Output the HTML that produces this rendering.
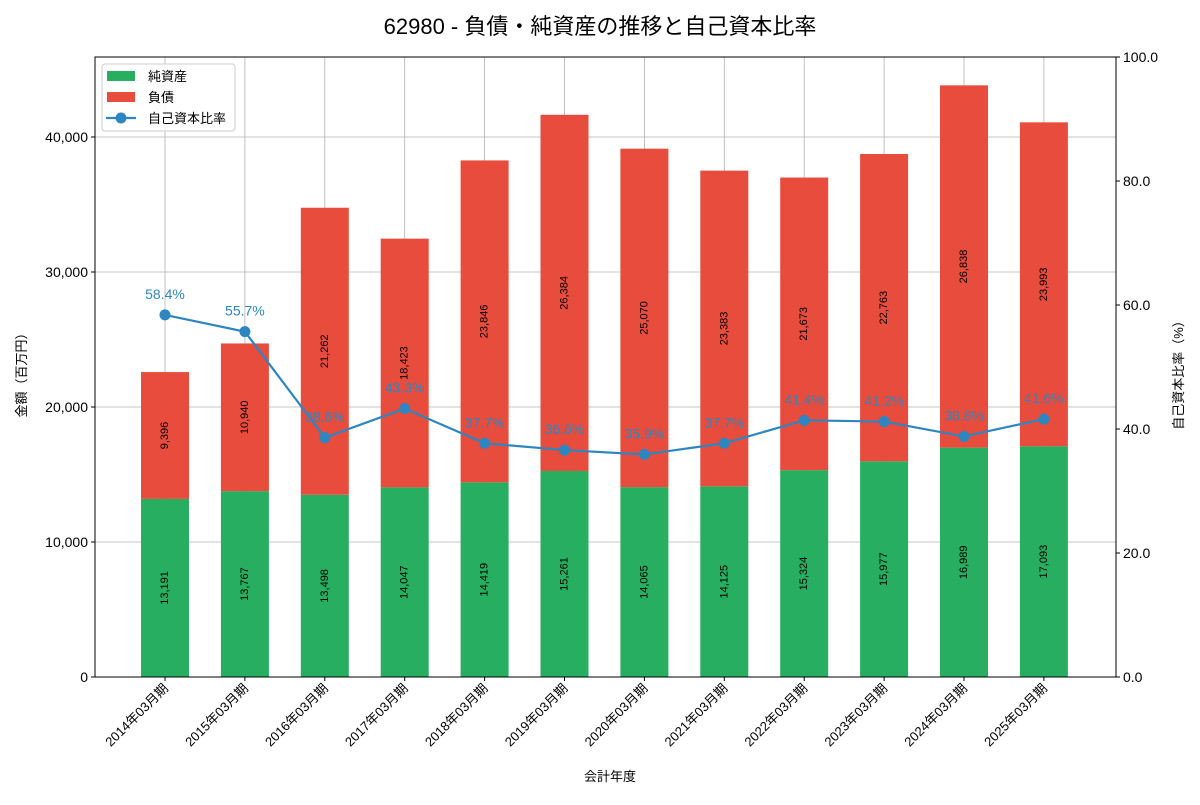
<!DOCTYPE html>
<html><head><meta charset="utf-8"><style>
body{margin:0;background:#fff}
svg{font-family:"Liberation Sans","Noto Sans CJK JP",sans-serif}
</style></head><body>
<svg id="c" width="1200" height="800"></svg>
<script>
const categories=["2014年03月期","2015年03月期","2016年03月期","2017年03月期","2018年03月期","2019年03月期","2020年03月期","2021年03月期","2022年03月期","2023年03月期","2024年03月期","2025年03月期"];
const netAssets=[13191,13767,13498,14047,14419,15261,14065,14125,15324,15977,16989,17093];
const liabilities=[9396,10940,21262,18423,23846,26384,25070,23383,21673,22763,26838,23993];
const ratio=[58.4,55.7,38.6,43.3,37.7,36.6,35.9,37.7,41.4,41.2,38.8,41.6];
const leftTicks=[0,10000,20000,30000,40000];
const rightTicks=[0,20,40,60,80,100];
const L=95,R=1116,T=57,B=677,LMAX=45926;
const NS="http://www.w3.org/2000/svg";const svg=document.getElementById('c');
function el(t,a,p){const e=document.createElementNS(NS,t);for(const k in a)e.setAttribute(k,a[k]);(p||svg).appendChild(e);return e;}
const x=i=>165+i*79.9, y=v=>B-v/LMAX*(B-T), yr=v=>B-v/100*(B-T);
const fmt=v=>v.toLocaleString('en-US');
let g=el('g',{});
categories.forEach((c,i)=>el('line',{x1:x(i),x2:x(i),y1:T,y2:B,stroke:'#b0b0b0','stroke-width':0.8},g));
leftTicks.forEach(v=>el('line',{x1:L,x2:R,y1:y(v),y2:y(v),stroke:'#b0b0b0','stroke-width':0.8},g));
categories.forEach((c,i)=>{
 const bw=48,x0=x(i)-bw/2;
 let r=el('rect',{x:x0,y:y(netAssets[i]),width:bw,height:B-y(netAssets[i]),fill:'#27ae60'});
 
 let top=netAssets[i]+liabilities[i];
 r=el('rect',{x:x0,y:y(top),width:bw,height:y(netAssets[i])-y(top),fill:'#e74c3c'});
 
 [[netAssets[i]/2,netAssets[i]],[netAssets[i]+liabilities[i]/2,liabilities[i]]].forEach(([m,v])=>{
  const yy=y(m);let t=el('text',{x:x(i),y:yy,'font-size':11,'text-anchor':'middle','dominant-baseline':'central',transform:`rotate(-90 ${x(i)} ${yy})`});t.textContent=fmt(v);
  });
 let tl=el('text',{x:x(i)+4,y:B+12,'font-size':13,'text-anchor':'end',transform:`rotate(-45 ${x(i)+4} ${B+12})`});tl.textContent=c;
 
 el('line',{x1:x(i),x2:x(i),y1:B,y2:B+4,stroke:'#000'});
});
let pl=el('polyline',{points:ratio.map((v,i)=>x(i)+','+yr(v)).join(' '),fill:'none',stroke:'#2e86c1','stroke-width':2.2});

ratio.forEach((v,i)=>{let c=el('circle',{cx:x(i),cy:yr(v),r:5.5,fill:'#2e86c1'});
 let t=el('text',{x:x(i),y:yr(v)-16,'font-size':14,fill:'#2e86c1','text-anchor':'middle'});t.textContent=v.toFixed(1)+'%';});
el('rect',{x:L,y:T,width:R-L,height:B-T,fill:'none',stroke:'#000','stroke-width':1});
leftTicks.forEach(v=>{el('line',{x1:L-4,x2:L,y1:y(v),y2:y(v),stroke:'#000'});let t=el('text',{x:L-7,y:y(v)+5,'font-size':14,'text-anchor':'end'});t.textContent=fmt(v);});
rightTicks.forEach(v=>{el('line',{x1:R,x2:R+4,y1:yr(v),y2:yr(v),stroke:'#000'});let t=el('text',{x:R+7,y:yr(v)+5,'font-size':14});t.textContent=v.toFixed(1);});
let t=el('text',{x:600,y:34,'font-size':22,'text-anchor':'middle'});t.textContent='62980 - 負債・純資産の推移と自己資本比率';
t=el('text',{x:610,y:781,'font-size':13,'text-anchor':'middle'});t.textContent='会計年度';
t=el('text',{x:26,y:372,'font-size':13,'text-anchor':'middle',transform:'rotate(-90 26 372)'});t.textContent='金額（百万円）';
t=el('text',{x:1183,y:372,'font-size':13,'text-anchor':'middle',transform:'rotate(-90 1183 372)'});t.textContent='自己資本比率（%）';
let lg=el('g',{});
el('rect',{x:102,y:64,width:133,height:67,rx:3,fill:'#fff','fill-opacity':0.85,stroke:'#ccc'},lg);
el('rect',{x:107,y:71,width:28,height:10,fill:'#27ae60'},lg);
el('rect',{x:107,y:92,width:28,height:10,fill:'#e74c3c'},lg);
el('line',{x1:106,x2:136,y1:118,y2:118,stroke:'#2e86c1','stroke-width':2.2},lg);
el('circle',{cx:121,cy:118,r:5.5,fill:'#2e86c1'},lg);
[['純資産',81],['負債',102],['自己資本比率',123]].forEach(([s,yy])=>{let e=el('text',{x:148,y:yy,'font-size':13},lg);e.textContent=s;});
</script>
</body></html>
